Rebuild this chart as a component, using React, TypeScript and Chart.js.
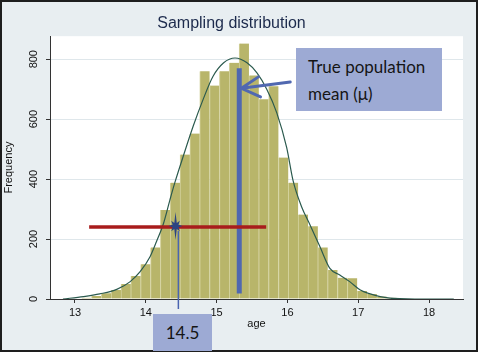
import React, { useEffect, useRef } from "react";
import { Chart, registerables } from "chart.js";

Chart.register(...registerables);

// Histogram bins (bin centers, age) and counts
const binCenters = [
  13.0245, 13.1635, 13.3025, 13.4415, 13.5805, 13.7195, 13.8585, 13.9975,
  14.1365, 14.2755, 14.4145, 14.5535, 14.6925, 14.8315, 14.9705, 15.1095,
  15.2485, 15.3875, 15.5265, 15.6655, 15.8045, 15.9435, 16.0825, 16.2215,
  16.3605, 16.4995, 16.6385, 16.7775, 16.9165, 17.0555, 17.1945, 17.3335,
  17.4725, 17.6115,
];
const binCounts = [
  2, 4, 10, 19, 30, 50, 77, 116, 172, 297, 388, 482, 552, 760, 712, 760, 788,
  852, 746, 666, 710, 472, 388, 282, 243, 172, 97, 71, 69, 27, 17, 8, 4, 2,
];

// Density curve (x = age, y = frequency scale)
const curveX = [
  12.83, 13.12, 13.35, 13.59, 13.78, 13.92, 14.06, 14.15, 14.25, 14.34, 14.41,
  14.53, 14.67, 14.81, 14.95, 15.1, 15.26, 15.43, 15.57, 15.71, 15.85, 15.99,
  16.08, 16.2, 16.32, 16.46, 16.6, 16.74, 16.88, 17.03, 17.17, 17.31, 17.45,
  17.59, 17.8, 18.35,
];
const curveY = [
  0, 8, 17, 32, 58, 91, 141, 191, 252, 330, 388, 477, 577, 666, 743, 788, 804,
  788, 754, 699, 621, 505, 395, 308, 247, 174, 102, 80, 58, 30, 17, 8, 3, 1, 0,
  0,
];

const xTicks = [13, 14, 15, 16, 17, 18];
const yTicks = [0, 200, 400, 600, 800];

// Annotation values
const trueMean = 15.32;
const trueMeanLow = 18;
const trueMeanHigh = 770;
const sampleMean = 14.46;
const ciLow = 13.2;
const ciHigh = 15.7;
const ciLevel = 240;
const starX = 14.42;
const arrowFrom = { x: 16.04, y: 724 };
const arrowTo = { x: 15.35, y: 703 };
const arrowWingA = { x: 15.59, y: 741 };
const arrowWingB = { x: 15.62, y: 674 };

const annotationPlugin = {
  id: "annot",
  beforeDraw(chart: any) {
    const { ctx, chartArea } = chart;
    ctx.save();
    ctx.fillStyle = "#ffffff";
    ctx.fillRect(chartArea.left, chartArea.top, chartArea.right - chartArea.left, chartArea.bottom - chartArea.top);
    ctx.restore();
  },
  afterDatasetsDraw(chart: any) {
    const { ctx } = chart;
    const xs = chart.scales.x;
    const ys = chart.scales.y;
    const px = (v: number) => xs.getPixelForValue(v);
    const py = (v: number) => ys.getPixelForValue(v);
    ctx.save();
    // true mean vertical bar
    ctx.strokeStyle = "#5068b0";
    ctx.lineWidth = 5;
    ctx.lineCap = "butt";
    ctx.beginPath();
    ctx.moveTo(px(trueMean), py(trueMeanLow));
    ctx.lineTo(px(trueMean), py(trueMeanHigh));
    ctx.stroke();
    // red interval line
    ctx.strokeStyle = "#a81c1c";
    ctx.lineWidth = 3.5;
    ctx.beginPath();
    ctx.moveTo(px(ciLow), py(ciLevel));
    ctx.lineTo(px(ciHigh), py(ciLevel));
    ctx.stroke();
    // thin sample-mean line down below the axis
    ctx.strokeStyle = "#4a64b0";
    ctx.lineWidth = 1.5;
    ctx.beginPath();
    ctx.moveTo(px(sampleMean), py(ciLevel) + 4);
    ctx.lineTo(px(sampleMean), ys.bottom + 10);
    ctx.stroke();
    // star
    const cx = px(starX);
    const cy = py(ciLevel) - 1;
    ctx.fillStyle = "#2c4382";
    ctx.beginPath();
    const n = 8;
    for (let i = 0; i < n * 2; i++) {
      const a = (Math.PI * i) / n - Math.PI / 2;
      let r;
      if (i % 2 === 1) r = 3.2;
      else {
        const k = i / 2;
        r = k === 0 || k === 4 ? 14 : k === 2 || k === 6 ? 7 : 7.5;
      }
      const sx = Math.cos(a) * r * (i % 2 === 0 && (i / 2) % 2 === 1 ? 0.8 : 1);
      const sy = Math.sin(a) * r;
      if (i === 0) ctx.moveTo(cx + sx, cy + sy);
      else ctx.lineTo(cx + sx, cy + sy);
    }
    ctx.closePath();
    ctx.fill();
    // arrow
    ctx.strokeStyle = "#5068b0";
    ctx.lineWidth = 3;
    ctx.lineCap = "round";
    ctx.beginPath();
    ctx.moveTo(px(arrowFrom.x), py(arrowFrom.y));
    ctx.lineTo(px(arrowTo.x), py(arrowTo.y));
    ctx.moveTo(px(arrowWingA.x), py(arrowWingA.y));
    ctx.lineTo(px(arrowTo.x), py(arrowTo.y));
    ctx.lineTo(px(arrowWingB.x), py(arrowWingB.y));
    ctx.stroke();
    ctx.restore();
  },
};

export default function App() {
  const ref = useRef<HTMLCanvasElement>(null);
  useEffect(() => {
    if (!ref.current) return;
    const font = "'Liberation Sans', Arial, sans-serif";
    const chart = new Chart(ref.current, {
      type: "bar",
      data: {
        datasets: [
          {
            type: "line",
            data: curveX.map((x, i) => ({ x, y: curveY[i] })),
            borderColor: "#2b5a4e",
            borderWidth: 1.2,
            pointRadius: 0,
            cubicInterpolationMode: "monotone",
            fill: false,
            order: 0,
          } as any,
          {
            type: "bar",
            data: binCenters.map((x, i) => ({ x, y: binCounts[i] })),
            backgroundColor: "#b8b56a",
            borderColor: "#d3d19c",
            borderWidth: { left: 1, right: 0, top: 0, bottom: 0 },
            borderSkipped: false,
            barPercentage: 1,
            categoryPercentage: 1,
            order: 1,
          } as any,
        ],
      },
      options: {
        animation: false,
        responsive: false,
        events: [],
        layout: { padding: { left: 0, right: 15, top: 0, bottom: 0 } },
        plugins: {
          legend: { display: false },
          tooltip: { enabled: false },
          title: {
            display: true,
            text: "Sampling distribution",
            color: "#1c2a4c",
            font: { family: font, size: 16, weight: "normal" },
            padding: { top: 14, bottom: 3 },
          },
        },
        scales: {
          x: {
            type: "linear",
            min: 12.647,
            max: 18.48,
            offset: false,
            afterBuildTicks: (s: any) => {
              s.ticks = xTicks.map((v) => ({ value: v }));
            },
            afterFit: (s: any) => {
              s.height = 55;
            },
            ticks: {
              color: "#111",
              font: { family: font, size: 11 },
              padding: 3,
              maxRotation: 0,
              includeBounds: false,
            },
            grid: {
              drawOnChartArea: false,
              drawTicks: true,
              tickLength: 4,
              tickColor: "#333",
              offset: false,
            },
            border: { color: "#333", width: 1 },
            title: {
              display: true,
              text: "age",
              color: "#111",
              font: { family: font, size: 11 },
              padding: { top: 0, bottom: 23 },
            },
          },
          y: {
            type: "linear",
            min: 0,
            max: 876.7,
            afterBuildTicks: (s: any) => {
              s.ticks = yTicks.map((v) => ({ value: v }));
            },
            afterFit: (s: any) => {
              s.width = 50;
            },
            ticks: {
              color: "#111",
              font: { family: font, size: 11 },
              padding: 3,
              minRotation: 90,
              maxRotation: 90,
              crossAlign: "center",
              includeBounds: false,
            },
            grid: {
              color: (c: any) => (c.tick && c.tick.value === 0 ? "rgba(0,0,0,0)" : "#dfe7eb"),
              tickLength: 4,
              tickColor: "#333",
              lineWidth: 1,
            },
            border: { color: "#333", width: 1 },
            title: {
              display: true,
              text: "Frequency",
              color: "#111",
              font: { family: font, size: 11 },
              padding: { top: 2, bottom: 0 },
            },
          },
        },
      } as any,
      plugins: [annotationPlugin],
    });
    return () => chart.destroy();
  }, []);

  const boxFont = "Lato, 'Noto Sans', sans-serif";
  return (
    <div style={{ position: "fixed", left: 0, top: 0, width: 478, height: 354, background: "#ffffff" }}>
      <div
        style={{
          position: "absolute",
          left: 0,
          top: 0,
          width: 474,
          height: 348,
          border: "2px solid #1e1e1e",
          background: "#e8eef1",
        }}
      />
      <canvas ref={ref} width={478} height={354} style={{ position: "absolute", left: 0, top: 0 }} />
      <div
        style={{
          position: "absolute",
          left: 296,
          top: 48,
          width: 146,
          height: 63,
          background: "#9daad4",
          fontFamily: boxFont,
          fontSize: 17,
          color: "#151515",
          lineHeight: "27px",
          paddingLeft: 12,
          paddingTop: 5,
          boxSizing: "border-box",
        }}
      >
        True population
        <br />
        mean (μ)
      </div>
      <div
        style={{
          position: "absolute",
          left: 153,
          top: 314,
          width: 59,
          height: 37,
          background: "#9daad4",
          fontFamily: boxFont,
          fontSize: 17,
          color: "#151515",
          display: "flex",
          alignItems: "center",
          justifyContent: "center",
        }}
      >
        14.5
      </div>
    </div>
  );
}
